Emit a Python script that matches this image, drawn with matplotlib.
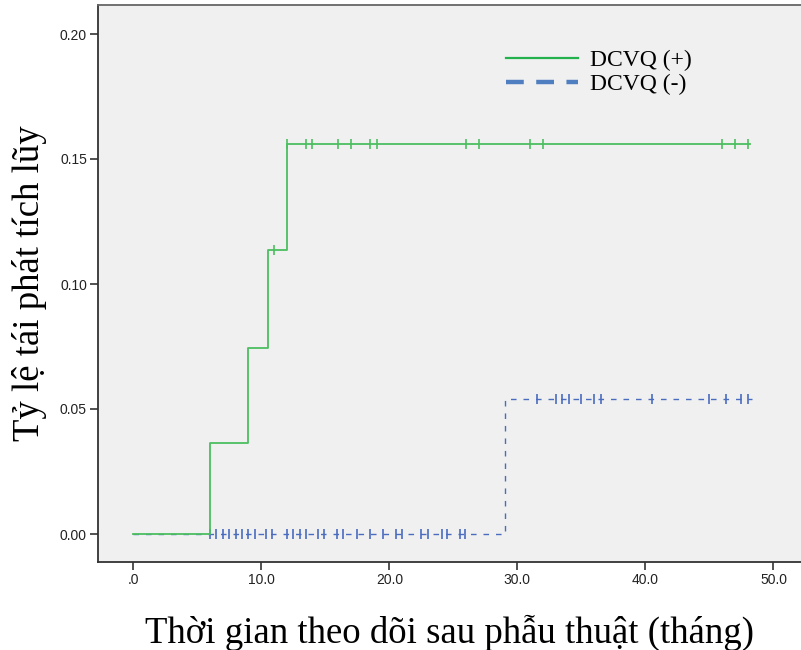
import matplotlib
matplotlib.use("Agg")
import matplotlib.pyplot as plt
from matplotlib.lines import Line2D

# ---- data ----
pos_times = [0.0, 6.0, 9.0, 10.5, 12.0]
pos_cum = [0.0, 0.0365, 0.0743, 0.1136, 0.156]
pos_end = 48.2
pos_censor_t = [11.0, 12.0, 13.5, 14.0, 16.0, 17.0, 18.5, 19.0, 26.0, 27.0,
                31.0, 32.0, 46.0, 47.0, 48.0]
pos_censor_y = [0.1136] + [0.156] * 14

neg_times = [0.0, 29.0]
neg_cum = [0.0, 0.054]
neg_end = 48.3
neg_censor_t = [6.0, 6.5, 7.0, 7.5, 8.0, 8.5, 9.0, 9.5, 10.4, 10.8, 12.0, 12.5,
                13.0, 13.5, 14.4, 14.9, 15.9, 16.4, 17.5, 18.5, 19.5, 20.5,
                21.0, 22.5, 23.0, 24.1, 24.5, 25.5, 25.9,
                31.5, 33.0, 33.5, 34.0, 35.0, 36.0, 36.5, 40.5, 45.0, 46.3,
                47.5, 48.0]
neg_censor_y = [0.0] * 29 + [0.054] * 12

xticks = [0, 10, 20, 30, 40, 50]
xtick_labels = [".0", "10.0", "20.0", "30.0", "40.0", "50.0"]
yticks = [0.0, 0.05, 0.10, 0.15, 0.20]
ytick_labels = ["0.00", "0.05", "0.10", "0.15", "0.20"]
legend_labels = ["DCVQ (+)", "DCVQ (-)"]
xlabel = "Thời gian theo dõi sau phẫu thuật (tháng)"
ylabel = "Tỷ lệ tái phát tích lũy"

green = "#4cbf5f"
blue = "#4a6cc0"
serif = ["Liberation Serif", "DejaVu Serif"]

fig = plt.figure(figsize=(8.01, 6.5), dpi=100)
ax = fig.add_axes([98 / 801, (650 - 562) / 650, 1 - 98 / 801, (562 - 5) / 650])
ax.set_facecolor("#f0f0f0")

# negative group (dashed blue)
ax.step(neg_times + [neg_end], neg_cum + [neg_cum[-1]], where="post",
        color=blue, lw=1.0, linestyle=(0, (4, 5)), zorder=2)
ax.plot(neg_censor_t, neg_censor_y, linestyle="none", marker="|",
        markersize=6.5, markeredgewidth=1.2, color=blue, zorder=3)

# positive group (solid green)
ax.step(pos_times + [pos_end], pos_cum + [pos_cum[-1]], where="post",
        color=green, lw=1.3, zorder=4)
ax.plot(pos_censor_t, pos_censor_y, linestyle="none", marker="|",
        markersize=6.5, markeredgewidth=1.2, color=green, zorder=5)

ax.set_xlim(-2.75, 52.15)
ax.set_ylim(-0.0112, 0.2116)
ax.set_xticks(xticks)
ax.set_xticklabels(xtick_labels)
ax.set_yticks(yticks)
ax.set_yticklabels(ytick_labels)
for lab in ax.get_xticklabels() + ax.get_yticklabels():
    lab.set_family(["Liberation Sans", "DejaVu Sans"])
    lab.set_fontsize(10)
    lab.set_color("#222222")
ax.tick_params(direction="out", length=6, width=1.2, color="#333333", pad=2)

for s in ["left", "bottom"]:
    ax.spines[s].set_color("#333333")
    ax.spines[s].set_linewidth(1.3)
ax.spines["top"].set_color("#666666")
ax.spines["top"].set_linewidth(1.3)
ax.spines["right"].set_visible(False)

ax.set_xlabel(xlabel, family=serif, fontsize=26.5, labelpad=20)
ax.set_ylabel(ylabel, family=serif, fontsize=26.5, labelpad=9)

handles = [Line2D([0], [0], color="#22b14c", lw=1.6),
           Line2D([0], [0], color="#4f7fc0", lw=3.2, linestyle=(0, (4, 2.8)))]
ax.legend(handles, legend_labels, loc="upper left",
          bbox_to_anchor=(0.58, 0.92), frameon=False,
          prop={"family": serif, "size": 17}, handlelength=3.05,
          handletextpad=0.5, labelspacing=0.1, borderpad=0, borderaxespad=0)

fig.savefig("out.png", dpi=100)
